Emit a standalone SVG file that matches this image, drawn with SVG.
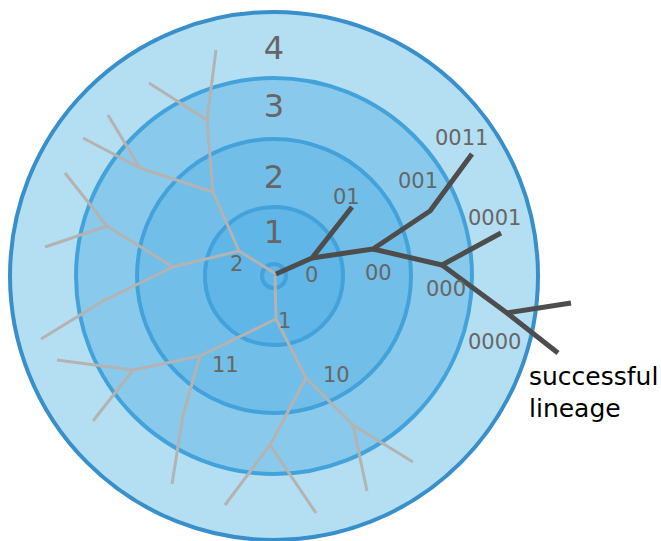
<svg xmlns="http://www.w3.org/2000/svg" width="661" height="541" viewBox="0 0 661 541">
<style>
.ring{stroke:#44a2da;stroke-width:4}
.gen{font-family:"DejaVu Sans",sans-serif;font-size:32px;fill:#666;text-anchor:middle}
.lab{font-family:"DejaVu Sans",sans-serif;font-size:21px;fill:#666}
.gray{fill:none;stroke:#b3b3b3;stroke-width:3;stroke-linejoin:round}
.dark{fill:none;stroke:#4d4d4d;stroke-width:5;stroke-linejoin:round}
.note{font-family:"DejaVu Sans",sans-serif;font-size:25px;fill:#000}
</style>
<rect width="661" height="541" fill="#fff"/>
<g id="rings">
<circle id="ring4" cx="274" cy="276" r="264" fill="#b4dff2" stroke="#388fca" stroke-width="4"/>
<circle id="ring3" class="ring" cx="274" cy="276" r="198" fill="#89caec"/>
<circle id="ring2" class="ring" cx="274" cy="276" r="137" fill="#71bee8"/>
<circle id="ring1" class="ring" cx="274" cy="276" r="69" fill="#60b6e6"/>
<circle id="ring0" class="ring" cx="274" cy="276" r="12" fill="#60b6e6"/>
</g>
<g id="generation-labels">
<text class="gen" x="274" y="59">4</text>
<text class="gen" x="274" y="117">3</text>
<text class="gen" x="274" y="188">2</text>
<text class="gen" x="274" y="243">1</text>
</g>
<g id="connectors">
<g id="extinct-lineages">
<polyline class="gray" points="276,274 239,251 213,192 207,120 216,50"/>
<line class="gray" x1="207" y1="120" x2="149" y2="83"/>
<polyline class="gray" points="213,192 140,168 108,115"/>
<line class="gray" x1="140" y1="168" x2="83" y2="138"/>
<polyline class="gray" points="239,251 173,267 107,226 65,173"/>
<line class="gray" x1="107" y1="226" x2="45" y2="247"/>
<polyline class="gray" points="173,267 103,301 41,339"/>
<polyline class="gray" points="275,276 276,319 200,356 133,370 57,360"/>
<line class="gray" x1="133" y1="370" x2="93" y2="421"/>
<polyline class="gray" points="200,356 183,415 172,484"/>
<polyline class="gray" points="276,319 306,378 270,445 225,505"/>
<line class="gray" x1="270" y1="445" x2="316" y2="513"/>
<polyline class="gray" points="306,378 353,425 413,462"/>
<line class="gray" x1="353" y1="425" x2="367" y2="491"/>
</g>
<g id="successful-lineage">
<polyline class="dark" points="276,274 312,258 352,207"/>
<polyline class="dark" points="312,258 373,249 430,211 472,154"/>
<polyline class="dark" points="373,249 442,265 501,233"/>
<polyline class="dark" points="442,265 507,313 558,353"/>
<line class="dark" x1="507" y1="313" x2="571" y2="303"/>
</g>
</g>
<g id="node-labels">
<text class="lab" x="333" y="204">01</text>
<text class="lab" x="305" y="282">0</text>
<text class="lab" x="365" y="280">00</text>
<text class="lab" x="398" y="188">001</text>
<text class="lab" x="435" y="145">0011</text>
<text class="lab" x="468" y="225">0001</text>
<text class="lab" x="426" y="296">000</text>
<text class="lab" x="468" y="349">0000</text>
<text class="lab" x="230" y="271">2</text>
<text class="lab" x="278" y="328">1</text>
<text class="lab" x="212" y="372">11</text>
<text class="lab" x="323" y="382">10</text>
</g>
<g id="annotation">
<text class="note" x="529" y="385">successful</text>
<text class="note" x="529" y="417">lineage</text>
</g>
</svg>
